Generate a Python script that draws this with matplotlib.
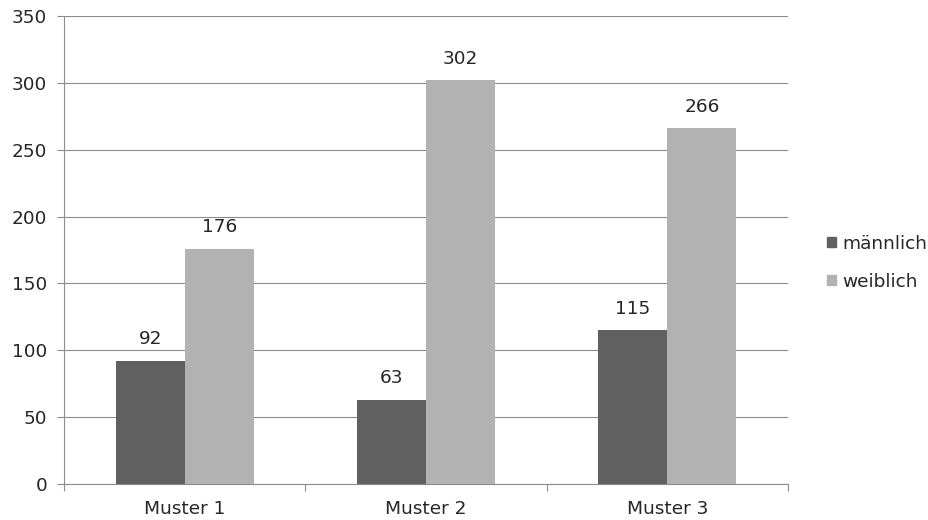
import matplotlib
matplotlib.use("Agg")
import matplotlib.pyplot as plt
import numpy as np
from matplotlib.patches import Patch

categories = ["Muster 1", "Muster 2", "Muster 3"]
maennlich = [92, 63, 115]
weiblich = [176, 302, 266]
series_labels = ["männlich", "weiblich"]
y_ticks = [0, 50, 100, 150, 200, 250, 300, 350]

DARK = "#606060"
LIGHT = "#b2b2b2"
GRID = "#8c8c8c"
TEXT = "#262626"
FS = 13.3

plt.rcParams["font.family"] = ["DejaVu Sans"]

fig = plt.figure(figsize=(9.29, 5.2), dpi=100)
ax = fig.add_axes([64 / 929, 36 / 520, (788 - 64) / 929, (484 - 16) / 520])

x = np.arange(len(categories))
width = 0.286
b1 = ax.bar(x - width / 2, maennlich, width, color=DARK, zorder=3)
b2 = ax.bar(x + width / 2, weiblich, width, color=LIGHT, zorder=3)

# value labels above each bar
for bars, vals in ((b1, maennlich), (b2, weiblich)):
    for bar, v in zip(bars, vals):
        ax.annotate(str(v), (bar.get_x() + bar.get_width() / 2, v),
                    textcoords="offset points", xytext=(0, 9),
                    ha="center", va="bottom", fontsize=FS, color=TEXT)

ax.set_xlim(-0.5, len(categories) - 0.5)
ax.set_ylim(0, 350)
ax.set_yticks(y_ticks)
ax.yaxis.grid(True, color=GRID, linewidth=0.8, zorder=0)
ax.tick_params(axis="y", length=5, width=0.8, color=GRID, labelsize=FS,
               labelcolor=TEXT, pad=7)

# category labels at centres, tick marks at the boundaries
ax.set_xticks(x)
ax.set_xticklabels(categories)
ax.tick_params(axis="x", length=0, labelsize=FS, labelcolor=TEXT, pad=11.5)
ax.set_xticks(np.arange(len(categories) + 1) - 0.5, minor=True)
ax.tick_params(axis="x", which="minor", length=5, width=0.8, color=GRID)

for s in ("top", "right"):
    ax.spines[s].set_visible(False)
ax.spines["left"].set_color(GRID)
ax.spines["bottom"].set_color(GRID)
ax.spines["left"].set_linewidth(0.8)
ax.spines["bottom"].set_linewidth(0.8)

handles = [Patch(color=DARK), Patch(color=LIGHT)]
fig.legend(handles, series_labels, loc="center left",
           bbox_to_anchor=(0.872, 0.495), frameon=False, fontsize=FS,
           handlelength=0.5, handleheight=0.5, handletextpad=0.34,
           labelspacing=1.08, labelcolor=TEXT)

fig.savefig("out.png", dpi=100, facecolor="white")
